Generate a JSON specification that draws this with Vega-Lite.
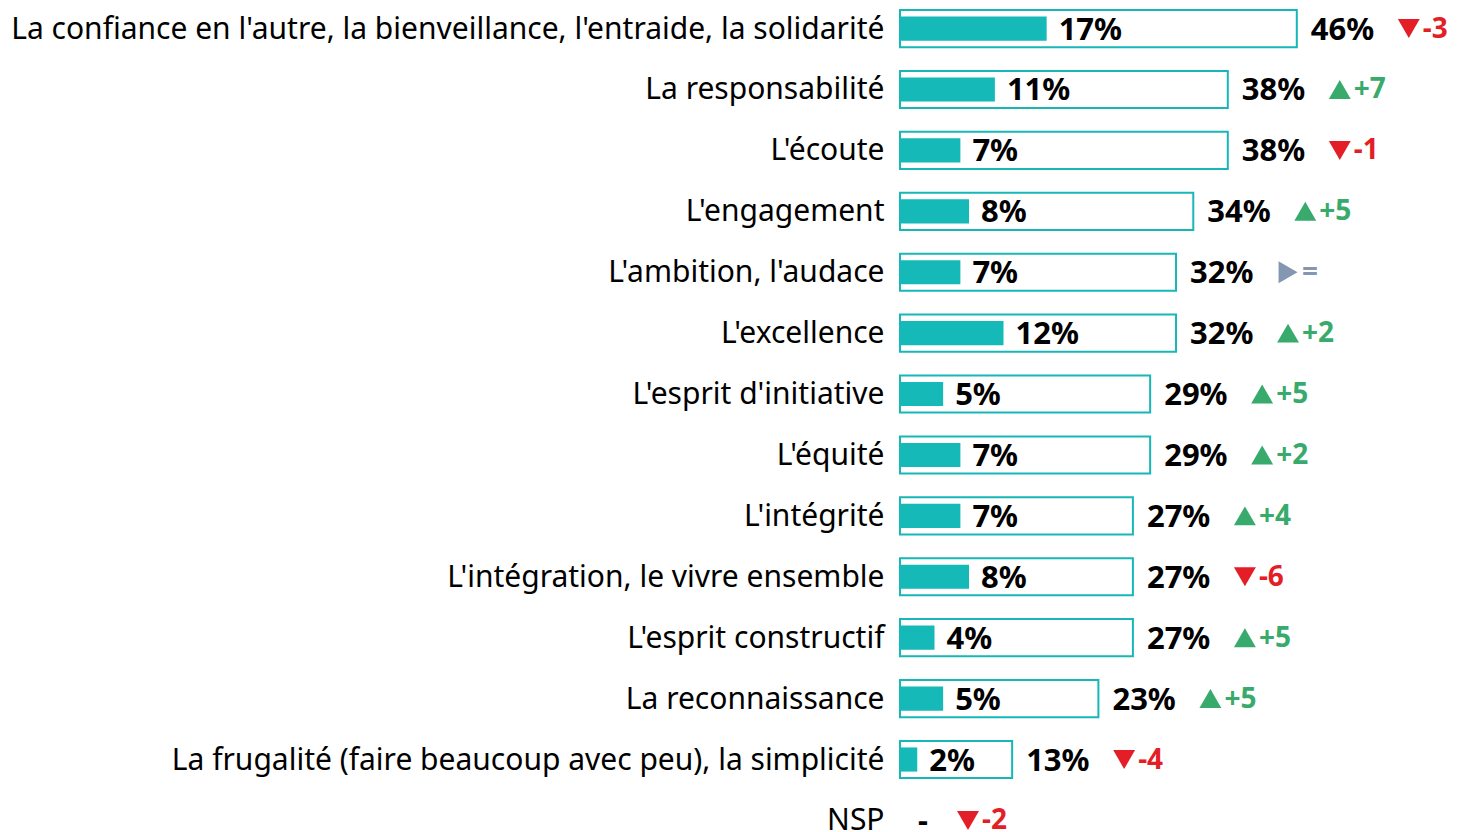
{
  "$schema": "https://vega.github.io/schema/vega-lite/v6.json",
  "autosize": {"type": "none"},
  "padding": {"left": 900, "top": 0, "right": 0, "bottom": 0},
  "width": 565,
  "height": 832,
  "background": "white",
  "config": {"view": {"stroke": null}},
  "data": {"values": [
    {"cat": "La confiance en l'autre, la bienveillance, l'entraide, la solidarité", "first": 0.17, "total": 0.46, "dir": "down", "delta": "-3"},
    {"cat": "La responsabilité", "first": 0.11, "total": 0.38, "dir": "up", "delta": "+7"},
    {"cat": "L'écoute", "first": 0.07, "total": 0.38, "dir": "down", "delta": "-1"},
    {"cat": "L'engagement", "first": 0.08, "total": 0.34, "dir": "up", "delta": "+5"},
    {"cat": "L'ambition, l'audace", "first": 0.07, "total": 0.32, "dir": "eq", "delta": "="},
    {"cat": "L'excellence", "first": 0.12, "total": 0.32, "dir": "up", "delta": "+2"},
    {"cat": "L'esprit d'initiative", "first": 0.05, "total": 0.29, "dir": "up", "delta": "+5"},
    {"cat": "L'équité", "first": 0.07, "total": 0.29, "dir": "up", "delta": "+2"},
    {"cat": "L'intégrité", "first": 0.07, "total": 0.27, "dir": "up", "delta": "+4"},
    {"cat": "L'intégration, le vivre ensemble", "first": 0.08, "total": 0.27, "dir": "down", "delta": "-6"},
    {"cat": "L'esprit constructif", "first": 0.04, "total": 0.27, "dir": "up", "delta": "+5"},
    {"cat": "La reconnaissance", "first": 0.05, "total": 0.23, "dir": "up", "delta": "+5"},
    {"cat": "La frugalité (faire beaucoup avec peu), la simplicité", "first": 0.02, "total": 0.13, "dir": "down", "delta": "-4"},
    {"cat": "NSP", "first": null, "total": null, "dir": "down", "delta": "-2"}
  ]},
  "encoding": {
    "y": {
      "field": "cat", "type": "nominal", "sort": null,
      "scale": {"type": "band", "range": [10, 839], "paddingInner": 0.39, "paddingOuter": 0},
      "axis": {"title": null, "domain": false, "ticks": false, "labelFontSize": 30, "labelFont": "Noto Sans", "labelColor": "#000000", "labelPadding": 16, "labelLimit": 1000, "labelBaseline": "middle", "labelOffset": 1}
    }
  },
  "layer": [
    {
      "transform": [{"filter": "datum.total != null"}],
      "mark": {"type": "bar", "fill": "white", "stroke": "#17b7b7", "strokeWidth": 2},
      "encoding": {"x": {"field": "total", "type": "quantitative", "scale": {"domain": [0, 0.655], "nice": false, "zero": true}, "axis": null}}
    },
    {
      "transform": [{"filter": "datum.first != null"}],
      "mark": {"type": "bar", "fill": "#14b9b8", "height": {"band": 0.65}},
      "encoding": {"x": {"field": "first", "type": "quantitative"}}
    },
    {
      "transform": [{"filter": "datum.first != null"}],
      "mark": {"type": "text", "align": "left", "baseline": "middle", "dx": 12, "dy": 2, "fontSize": 31, "fontWeight": "bold", "font": "Noto Sans", "color": "#000000"},
      "encoding": {"x": {"field": "first", "type": "quantitative"}, "text": {"field": "first", "type": "quantitative", "format": ".0%"}}
    },
    {
      "transform": [{"filter": "datum.total != null"}],
      "mark": {"type": "text", "align": "left", "baseline": "middle", "dx": 14, "dy": 2, "fontSize": 31, "fontWeight": "bold", "font": "Noto Sans", "color": "#000000"},
      "encoding": {"x": {"field": "total", "type": "quantitative"}, "text": {"field": "total", "type": "quantitative", "format": ".0%"}}
    },
    {
      "transform": [{"filter": "datum.total != null"}],
      "mark": {"type": "point", "filled": true, "opacity": 1, "size": 480},
      "encoding": {
        "x": {"field": "total", "type": "quantitative"},
        "xOffset": {"value": 112},
        "shape": {"field": "dir", "type": "nominal", "scale": {"domain": ["down", "up", "eq"], "range": ["triangle-down", "triangle-up", "triangle-right"]}, "legend": null},
        "color": {"field": "dir", "type": "nominal", "scale": {"domain": ["down", "up", "eq"], "range": ["#e31e26", "#38aa6c", "#8497b0"]}, "legend": null}
      }
    },
    {
      "transform": [{"filter": "datum.total != null"}],
      "mark": {"type": "text", "align": "left", "baseline": "middle", "dx": 126, "dy": 1, "fontSize": 28, "fontWeight": "bold", "font": "Noto Sans"},
      "encoding": {
        "x": {"field": "total", "type": "quantitative"},
        "text": {"field": "delta"},
        "color": {"field": "dir", "type": "nominal", "legend": null}
      }
    },
    {
      "transform": [{"filter": "datum.total == null"}],
      "mark": {"type": "text", "align": "center", "baseline": "middle", "dx": 23, "dy": 2, "fontSize": 31, "fontWeight": "bold", "font": "Noto Sans", "color": "#000000", "text": "-"},
      "encoding": {"x": {"datum": 0, "type": "quantitative"}}
    },
    {
      "transform": [{"filter": "datum.total == null"}],
      "mark": {"type": "point", "filled": true, "opacity": 1, "size": 480},
      "encoding": {
        "x": {"datum": 0, "type": "quantitative"},
        "xOffset": {"value": 68},
        "shape": {"field": "dir", "type": "nominal", "legend": null},
        "color": {"field": "dir", "type": "nominal", "legend": null}
      }
    },
    {
      "transform": [{"filter": "datum.total == null"}],
      "mark": {"type": "text", "align": "left", "baseline": "middle", "dx": 82, "dy": 1, "fontSize": 28, "fontWeight": "bold", "font": "Noto Sans"},
      "encoding": {
        "x": {"datum": 0, "type": "quantitative"},
        "text": {"field": "delta"},
        "color": {"field": "dir", "type": "nominal", "legend": null}
      }
    }
  ]
}
